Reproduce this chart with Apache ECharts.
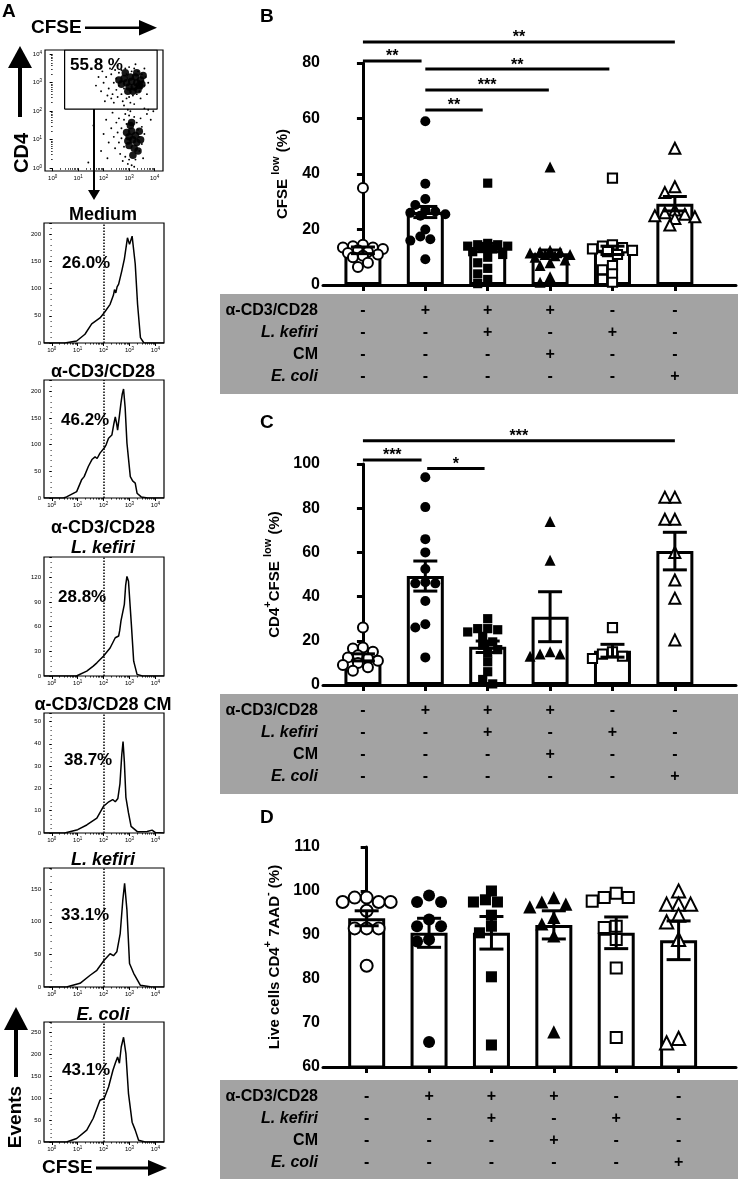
<!DOCTYPE html>
<html><head><meta charset="utf-8">
<script src="https://cdn.jsdelivr.net/npm/echarts@6/dist/echarts.min.js"></script>
<style>html,body{margin:0;padding:0;background:#fff}#c{width:738px;height:1179px}</style>
</head><body><div id="c"></div>
<script>
// ================= DATA =================
// Panel A: dot plot (log10 CFSE, log10 CD4)
const dotCoreUpper = [[2.9,3.0],[3.1,3.05],[3.3,3.0],[3.0,2.85],[3.2,2.85],[3.4,2.9],[2.8,3.15],[3.05,3.2],[3.25,3.2],[3.45,3.1],[2.7,2.95],[3.15,2.7],[2.95,2.7],[2.6,3.1],[3.35,2.75],[3.55,3.25],[3.5,2.95],[2.85,3.35],[3.3,3.35]];
const dotUpper = [[2.0,3.0],[2.1,3.2],[2.2,2.8],[2.3,3.3],[2.35,2.6],[2.4,3.0],[2.45,3.45],[2.5,2.75],[2.5,3.15],[2.55,2.5],[2.6,3.35],[2.6,2.9],[2.65,3.05],[2.7,2.6],[2.7,3.45],[2.75,2.35],[2.8,2.8],[2.85,3.5],[2.9,2.45],[2.9,3.3],[3.0,3.55],[3.0,2.5],[3.05,2.3],[3.1,3.4],[3.15,2.55],[3.2,3.5],[3.3,2.6],[3.35,3.4],[3.4,2.7],[3.5,3.3],[3.5,2.8],[3.55,3.05],[3.6,2.9],[3.45,2.45],[2.25,3.5],[2.15,2.55],[1.9,2.7],[1.8,3.2],[2.05,2.35],[3.2,2.25],[2.8,2.2],[3.65,3.2],[3.6,3.5],[1.7,2.9],[2.4,2.3],[3.7,2.6],[2.55,3.6],[3.25,3.65],[1.95,3.4],[2.3,2.45],[3.75,3.0]];
const dotCoreLower = [[3.0,1.1],[3.15,1.0],[3.1,1.3],[3.25,1.15],[3.0,0.8],[3.2,0.7],[3.05,1.5],[3.3,0.9],[2.9,1.25],[3.15,0.45],[3.1,1.6],[2.95,0.95],[3.4,1.3],[3.35,0.6],[3.45,1.0]];
const dotLower = [[2.3,1.4],[2.4,1.1],[2.45,0.7],[2.5,1.6],[2.55,1.25],[2.6,0.9],[2.6,1.75],[2.65,0.5],[2.7,1.4],[2.7,1.05],[2.75,0.25],[2.8,1.7],[2.8,0.75],[2.85,1.9],[2.85,0.4],[2.9,1.55],[2.95,0.15],[3.0,1.85],[3.0,0.3],[3.05,2.0],[3.1,0.1],[3.2,1.8],[3.25,0.3],[3.3,1.6],[3.35,1.35],[3.4,0.6],[3.4,1.1],[3.45,1.75],[3.5,0.85],[3.5,1.45],[3.55,0.35],[3.6,1.2],[3.7,1.9],[3.75,2.05],[3.85,1.7],[3.95,2.0],[2.2,0.9],[2.1,1.7],[2.0,1.2],[1.9,0.6],[2.35,1.95],[2.15,0.35],[1.6,1.5],[1.4,0.2],[3.2,0.05],[2.95,2.05],[3.6,2.1]];
const gateX = [0.47, 4.1];
const gateY = [2.07, 4.15];
const gatePct = '55.8 %';

// Panel A: CFSE histograms [log10 CFSE, events]
const histTitles = [['Medium'],['α-CD3/CD28'],['α-CD3/CD28','L. kefiri'],['α-CD3/CD28 CM'],['L. kefiri'],['E. coli']];
const histItalic = [[false],[false],[false,true],[false],[true],[true]];
const histPct = ['26.0%','46.2%','28.8%','38.7%','33.1%','43.1%'];
const histYTickStep = [50,50,30,10,50,50];
const hist1 = [[-0.3,0],[0.5,0],[0.57,0.5],[0.96,3.7],[1.28,16],[1.54,35],[1.86,46],[2.03,56],[2.25,71],[2.38,88],[2.42,98],[2.47,92],[2.52,103],[2.58,108],[2.7,132],[2.8,154],[2.92,193],[3.0,181],[3.1,196],[3.22,145],[3.31,71],[3.42,10],[3.55,0.5],[3.8,0],[4.33,0]];
const hist2 = [[-0.3,0],[0.45,0],[0.57,2],[0.96,12],[1.15,34],[1.25,40],[1.41,59],[1.55,72],[1.67,77],[1.75,74],[1.86,84],[2.03,94],[2.1,100],[2.19,112],[2.32,118],[2.4,140],[2.45,152],[2.5,140],[2.54,127],[2.6,150],[2.67,178],[2.72,195],[2.77,204],[2.83,170],[2.9,103],[3.03,40],[3.12,32],[3.22,28],[3.29,9],[3.45,2],[3.7,0],[4.33,0]];
const hist3 = [[-0.3,0],[0.95,0],[1.35,6],[1.6,12],[1.74,16],[1.99,24],[2.25,34],[2.45,46.5],[2.52,47],[2.58,48.6],[2.62,55],[2.67,67],[2.8,87],[2.85,110],[2.9,121],[2.96,115],[3.07,63],[3.16,18],[3.29,2],[3.5,0],[4.33,0]];
const hist4 = [[-0.3,0],[0.5,0],[1.0,1.5],[1.35,3.6],[1.74,6.7],[2.0,12],[2.2,14],[2.35,15],[2.45,14],[2.55,15.5],[2.63,22],[2.7,35],[2.75,41],[2.8,32],[2.86,16],[2.96,9],[3.06,3],[3.3,0.6],[3.68,0.7],[3.87,1.3],[4.0,0.2],[4.33,0]];
const hist5 = [[-0.3,0],[0.57,0],[1.09,5.6],[1.48,18],[1.74,25.6],[2.02,41],[2.25,51],[2.38,48],[2.51,54],[2.64,82],[2.74,133],[2.81,159],[2.9,118],[3.0,36],[3.16,21],[3.42,2.6],[3.8,0.5],[4.33,0]];
const hist6 = [[-0.3,0],[0.57,0],[0.96,8],[1.35,27],[1.6,54],[1.86,95],[2.02,99],[2.19,125],[2.36,163],[2.45,179],[2.54,193],[2.61,179],[2.68,216],[2.77,238],[2.86,201],[2.96,110],[3.1,45],[3.22,27],[3.35,4],[3.6,0],[4.33,0]];
const histData = [hist1,hist2,hist3,hist4,hist5,hist6];

// Condition table
const tableRows = ['α-CD3/CD28','L. kefiri','CM','E. coli'];
const italicRows = ['L. kefiri','E. coli'];
const tableSigns = [
  ['-','+','+','+','-','-'],
  ['-','-','+','-','+','-'],
  ['-','-','-','+','-','-'],
  ['-','-','-','-','-','+']
];

// Panel B: CFSE low (%)
const bMeans = [12.5,26.3,13.5,11.4,12.5,29.3];
const bSem = [1.2,2.0,1.5,1.2,1.5,2.6];
const bPts = [
  [35,14.5,14,13.5,13.5,13,12.5,12,11.5,11,10.5,10,8,6.5],
  [59,36.5,31,28.8,27,26.5,26,25.5,25,20,17.5,16.5,16,9.3],
  [36.7,15,14.5,14.5,14,14,13.5,13,12,11,10,8,6,4,2,0.5],
  [42.5,12.5,12,12,11.5,11,11,10.5,10,9,8,7,3,1],
  [38.5,14.5,14,13.5,13,12.5,12,11,7,5.5,4,2,1],
  [49.3,35.4,33.3,27,26,25.5,25,24.6,24,21.6]
];
const bSig = [[0,5,87.6,'**'],[0,0.94,80.7,'**'],[1,3.95,77.8,'**'],[1,2.98,70.3,'***'],[1,1.92,63.1,'**']];

// Panel C: CD4+CFSE low (%)
const cMeans = [12.5,49.3,17.3,30.9,15.5,60.6];
const cSem = [1.6,6.8,2.6,11.3,2.9,8.5];
const cPts = [
  [26,17,16.5,15,13.5,12.5,12,11,10,9,8,6.5],
  [94,80.5,66,60,52.5,46.5,46,46,38,27.5,26,12.5],
  [30,25.5,25,24,25.5,22,19.5,18,16,14.5,10.5,6,2.5,0.5],
  [74,56.5,15,14,13,14],
  [26,15,14,13,12],
  [85,85,75,75,60,47.5,39.3,20.4]
];
const cSig = [[0,5,110.5,'***'],[0,0.94,101.8,'***'],[1.03,1.95,98,'*']];

// Panel D: Live cells CD4+ 7AAD- (%)
const dMeans = [93.8,90.5,90.5,92.3,90.5,88.8];
const dSem = [1.7,3.3,3.7,3.2,3.6,4.4];
const dPts = [
  [98.5,98.5,97.5,97.5,97.5,95.5,91.5,91.5,91.5,83],
  [99,97.5,97.5,93.5,92,92,89,88.5,65.7],
  [100,98,97.5,97.5,94.5,92,90.5,80.5,65],
  [98.5,97.5,97,96.4,94,92.5,89.8,68],
  [99.5,98.5,98.5,97.7,91.7,92,89,82.5,66.7],
  [100,97,97,97,94.5,93,89,65.5,66.5]
];
const dSig = [];

// ================= STYLE / LAYOUT =================
const FF = '"Liberation Sans", Arial, Helvetica, sans-serif';
const K = '#000';
const groupSymbols = ['circle','circle','rect','triangle','rect','triangle'];
const groupFilled = [false,true,true,true,false,false];

const option = {animation:false, backgroundColor:'#fff', grid:[], xAxis:[], yAxis:[], series:[], graphic:[]};
const addGrid = g => (option.grid.push(g), option.grid.length-1);
const addX = a => (option.xAxis.push(a), option.xAxis.length-1);
const addY = a => (option.yAxis.push(a), option.yAxis.length-1);

const minorLog = [];
for (let n=0;n<4;n++) for (let k=2;k<10;k++) minorLog.push(n+Math.log10(k));
const majorLog = [0,1,2,3,4];
const logFmt = v => '10{s|' + Math.round(v) + '}';
const supRich = {s:{fontSize:4.5, color:K, fontFamily:FF, verticalAlign:'top', padding:[0,0,3,0]}};

function flowX(gi){
  const xa = addX({gridIndex:gi, type:'value', position:'bottom', min:-0.3, max:4.33,
    axisLine:{show:false}, splitLine:{show:false},
    axisTick:{show:true, length:3, lineStyle:{color:K,width:1}, customValues:majorLog},
    axisLabel:{show:true, customValues:majorLog, formatter:logFmt, fontSize:6, color:K, fontFamily:FF, margin:3, rich:supRich}});
  addX({gridIndex:gi, type:'value', position:'bottom', min:-0.3, max:4.33,
    axisLine:{show:false}, splitLine:{show:false},
    axisTick:{show:true, length:1.6, lineStyle:{color:K,width:0.8}, customValues:minorLog},
    axisLabel:{show:false}});
  return xa;
}

// --- Dot plot ---
{
  const gi = addGrid({left:45, top:50, width:118, height:121, show:true, borderColor:K, borderWidth:1.2});
  const xa = flowX(gi);
  const ya = addY({gridIndex:gi, type:'value', position:'left', min:-0.1, max:4.15,
    axisLine:{show:false}, splitLine:{show:false},
    axisTick:{show:true, length:3, lineStyle:{color:K,width:1}, customValues:majorLog},
    axisLabel:{show:true, customValues:majorLog, formatter:logFmt, fontSize:6, color:K, fontFamily:FF, margin:3, rich:supRich}});
  addY({gridIndex:gi, type:'value', position:'left', min:-0.1, max:4.15,
    axisLine:{show:false}, splitLine:{show:false},
    axisTick:{show:true, length:1.6, lineStyle:{color:K,width:0.8}, customValues:minorLog}, axisLabel:{show:false}});
  const sc = (data, size, op) => ({type:'scatter', xAxisIndex:xa, yAxisIndex:ya, data, symbolSize:size, itemStyle:{color:K, opacity:op}, silent:true, z:3});
  option.series.push(sc(dotCoreUpper,7.5,0.9), sc(dotUpper,1.9,1), sc(dotCoreLower,7.5,0.9), sc(dotLower,1.9,1));
  option.series.push({type:'line', xAxisIndex:xa, yAxisIndex:ya, showSymbol:false, silent:true, z:4,
    data:[[gateX[0],gateY[0]],[gateX[0],gateY[1]],[gateX[1],gateY[1]],[gateX[1],gateY[0]],[gateX[0],gateY[0]]],
    lineStyle:{color:K,width:1.2}});
}

// --- Histograms ---
const histFrames = [[223,120],[380,118],[557,119],[713,120],[868,119],[1022,120]];
const histYPxPerStep = [27.25,26.7,24.7,22.3,32.6,22];
histData.forEach((hd, h) => {
  const [top, height] = histFrames[h];
  const gi = addGrid({left:44, top, width:120, height, show:true, borderColor:K, borderWidth:1.2});
  const xa = flowX(gi);
  const ymax = height / histYPxPerStep[h] * histYTickStep[h];
  const ya = addY({gridIndex:gi, type:'value', min:0, max:ymax, interval:histYTickStep[h],
    axisLine:{show:false}, splitLine:{show:false},
    axisTick:{show:true, length:2.5, lineStyle:{color:K,width:1}},
    minorTick:{show:true, splitNumber:5, length:1.3, lineStyle:{color:K,width:0.7}},
    axisLabel:{fontSize:6, color:K, fontFamily:FF, margin:3, showMaxLabel:false}});
  option.series.push({type:'line', xAxisIndex:xa, yAxisIndex:ya, data:hd, showSymbol:false, silent:true, z:3,
    lineStyle:{color:K, width:1.5},
    markLine:{silent:true, symbol:['none','none'], label:{show:false}, lineStyle:{type:'dotted', color:K, width:1.5}, data:[{xAxis:2}]}});
});

// --- Bar panels B, C, D ---
// simple beeswarm layout (pixel space) to keep dots from stacking exactly
function swarm(vals, pxPerY, d, maxOff){
  const order = vals.map((v,i)=>i).sort((a,b)=>vals[b]-vals[a]);
  const step = d*0.5;
  const cands = [0];
  for (let k=1; k*step<=maxOff; k++){ cands.push(-k*step, k*step); }
  const placed = [], off = new Array(vals.length).fill(0);
  for (const i of order){
    const y = vals[i]*pxPerY;
    let best = 0, bestD = -1;
    for (const o of cands){
      const md = placed.length ? Math.min(...placed.map(p => Math.hypot(p[0]-o, p[1]-y))) : 1e9;
      if (md >= d*0.8){ best=o; bestD=md; break; }
      if (md > bestD){ bestD=md; best=o; }
    }
    placed.push([best,y]); off[i]=best;
  }
  return off;
}

const panels = [
  {top:63, height:222, min:0, max:80, interval:20, xmin:-0.64, xmax:5.98, means:bMeans, sem:bSem, pts:bPts, sig:bSig,
   name:'{n|CFSE }{s|low}{n| (%)}', nameGap:33, sym:10, spread:21, tableTop:299},
  {top:464, height:221, min:0, max:100, interval:20, xmin:-0.64, xmax:5.98, means:cMeans, sem:cSem, pts:cPts, sig:cSig,
   name:'{n|CD4}{s|+}{n|CFSE }{s|low}{n| (%)}', nameGap:40, sym:10, spread:20, tableTop:699},
  {top:847, height:220, min:60, max:110, interval:10, xmin:-0.70, xmax:5.92, means:dMeans, sem:dSem, pts:dPts, sig:dSig,
   name:'{n|Live cells CD4}{s|+}{n| 7AAD}{s|-}{n| (%)}', nameGap:40, sym:12, spread:24, tableTop:1085}
];
const nameRich = {
  n:{fontSize:15, fontWeight:'bold', fontFamily:FF, color:K, lineHeight:20, verticalAlign:'bottom'},
  s:{fontSize:11, fontWeight:'bold', fontFamily:FF, color:K, lineHeight:20, verticalAlign:'top'}
};
const catTicks = [0,1,2,3,4,5];

panels.forEach(P => {
  const gi = addGrid({left:323, right:2, top:P.top, height:P.height});
  const xa = addX({gridIndex:gi, type:'value', min:P.xmin, max:P.xmax,
    axisLine:{show:true, onZero:false, lineStyle:{color:K,width:3}},
    axisTick:{show:true, length:6, lineStyle:{color:K,width:3}, customValues:catTicks},
    axisLabel:{show:false}, splitLine:{show:false}});
  const ya = addY({gridIndex:gi, type:'value', min:P.min, max:P.max, interval:P.interval,
    axisLine:{show:true, lineStyle:{color:K,width:3}},
    axisTick:{show:true, length:6, lineStyle:{color:K,width:3}},
    axisLabel:{fontSize:16, fontWeight:'bold', color:K, fontFamily:FF, margin:3},
    splitLine:{show:false},
    name:P.name, nameLocation:'middle', nameRotate:90, nameGap:P.nameGap,
    nameTextStyle:{rich:nameRich}});
  option.series.push({type:'bar', xAxisIndex:xa, yAxisIndex:ya, barWidth:37, z:2, silent:true,
    data:P.means.map((m,i)=>[i,m]), itemStyle:{color:'#fff', borderColor:K, borderWidth:3, opacity:1}});
  const pxY = P.height/(P.max-P.min), pxX = 413/(P.xmax-P.xmin);
  P.pts.forEach((vals, g) => {
    const offs = swarm(vals, pxY, P.sym, P.spread);
    const filled = groupFilled[g];
    const sym = groupSymbols[g];
    const size = sym==='triangle' ? P.sym*1.1 : (sym==='rect' ? P.sym*0.92 : P.sym);
    option.series.push({type:'scatter', xAxisIndex:xa, yAxisIndex:ya, z:3, silent:true,
      symbol:sym, symbolSize:size,
      data: vals.map((v,j)=>[g + offs[j]/pxX, v]),
      itemStyle: filled ? {color:K, opacity:1} : {color:'#fff', borderColor:K, borderWidth:2, opacity:1}});
  });
  option.series.push({type:'custom', xAxisIndex:xa, yAxisIndex:ya, z:4, silent:true,
    data:P.means.map((m,i)=>[i,m,P.sem[i]]),
    renderItem:(params, api) => {
      const x = api.value(0), m = api.value(1), s = api.value(2);
      const hi = api.coord([x, m+s]), lo = api.coord([x, m-s]);
      const cw = 12;
      const st = {stroke:K, lineWidth:3};
      return {type:'group', children:[
        {type:'line', shape:{x1:hi[0],y1:hi[1],x2:lo[0],y2:lo[1]}, style:st},
        {type:'line', shape:{x1:hi[0]-cw,y1:hi[1],x2:hi[0]+cw,y2:hi[1]}, style:st},
        {type:'line', shape:{x1:lo[0]-cw,y1:lo[1],x2:lo[0]+cw,y2:lo[1]}, style:st}
      ]};
    }});
  if (P.sig.length) option.series.push({type:'custom', xAxisIndex:xa, yAxisIndex:ya, z:5, silent:true, clip:false,
    data:P.sig.map(s=>[s[0],s[1],s[2]]),
    renderItem:(params, api) => {
      const a = api.coord([api.value(0), api.value(2)]), b = api.coord([api.value(1), api.value(2)]);
      const lab = P.sig[params.dataIndex][3];
      return {type:'group', children:[
        {type:'line', shape:{x1:a[0],y1:a[1],x2:b[0],y2:b[1]}, style:{stroke:K, lineWidth:3}},
        {type:'text', style:{text:lab, x:(a[0]+b[0])/2, y:a[1]+4, align:'center', verticalAlign:'bottom',
          fontSize:16, fontWeight:'bold', fontFamily:FF, fill:K}}
      ]};
    }});

  // condition table
  option.graphic.push({type:'rect', z:-5, shape:{x:220, y:P.tableTop-5, width:518, height:100}, style:{fill:'#a3a3a3'}});
  const tg = addGrid({left:323, right:2, top:P.tableTop, height:89});
  const txa = addX({gridIndex:tg, type:'value', min:P.xmin, max:P.xmax, show:false});
  const tya = addY({gridIndex:tg, type:'category', data:tableRows, inverse:true,
    axisLine:{show:false}, axisTick:{show:false}, splitLine:{show:false},
    axisLabel:{margin:5, formatter:v => italicRows.includes(v) ? '{i|'+v+'}' : '{b|'+v+'}',
      rich:{b:{fontSize:16, fontWeight:'bold', fontFamily:FF, color:K},
            i:{fontSize:16, fontWeight:'bold', fontStyle:'italic', fontFamily:FF, color:K}}}});
  const cells = [];
  tableSigns.forEach((row, r) => row.forEach((s, c) => cells.push([c, r, s])));
  option.series.push({type:'custom', xAxisIndex:txa, yAxisIndex:tya, z:5, silent:true,
    data:cells.map(c=>[c[0],c[1]]),
    renderItem:(params, api) => {
      const p = api.coord([api.value(0), api.value(1)]);
      return {type:'text', style:{text:cells[params.dataIndex][2], x:p[0], y:p[1], align:'center', verticalAlign:'middle',
        fontSize:16, fontWeight:'bold', fontFamily:FF, fill:K}};
    }});
});

// --- Texts & arrows (panel A decorations) ---
const T = (text, x, y, o={}) => option.graphic.push({type:'text', x, y, rotation:o.rot||0, z:10, silent:true,
  style:{text, align:o.align||'left', verticalAlign:'middle', fontSize:o.size||17, fontWeight:'bold',
    fontStyle:o.italic?'italic':'normal', fontFamily:FF, fill:K}});
T('A', 2, 12, {size:19});
T('B', 260, 17, {size:19});
T('C', 260, 423, {size:19});
T('D', 260, 818, {size:19});
T('CFSE', 31, 28, {size:19});
T('CD4', 22, 153, {size:20, align:'center', rot:Math.PI/2});
T(gatePct, 70, 65, {size:17});
T('Events', 16, 1117, {size:19, align:'center', rot:Math.PI/2});
T('CFSE', 42, 1168, {size:19});
const titleY = [[215],[372],[528,548],[705],[860],[1015]];
histTitles.forEach((lines, h) => lines.forEach((t, k) => T(t, 103, titleY[h][k], {size:18, align:'center', italic:histItalic[h][k]})));
const pctPos = [[62,263],[61,420],[58,597],[64,760],[61,915],[62,1070]];
histPct.forEach((p, h) => T(p, pctPos[h][0], pctPos[h][1], {size:17}));

const L = (x1,y1,x2,y2,w) => option.graphic.push({type:'line', z:10, silent:true, shape:{x1,y1,x2,y2}, style:{stroke:K, lineWidth:w}});
const H = pts => option.graphic.push({type:'polygon', z:10, silent:true, shape:{points:pts}, style:{fill:K}});
L(85,27.7,141,27.7,2.5); H([[139,20],[157,27.7],[139,35.5]]);
L(20,117,20,66,4); H([[8,68],[20,46],[32,68]]);
L(94,109,94,191,2); H([[88,190],[94,200],[100,190]]);
L(16,1077,16,1028,4); H([[4,1030],[16,1007],[28,1030]]);
L(96,1168,150,1168,3); H([[148,1160],[167,1168],[148,1176]]);

const chart = echarts.init(document.getElementById('c'), null, {renderer:'canvas'});
chart.setOption(option);
</script>
</body></html>
